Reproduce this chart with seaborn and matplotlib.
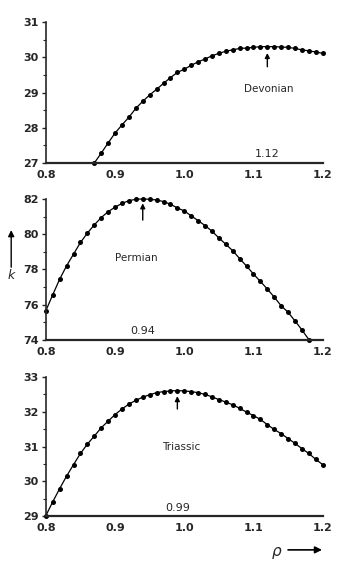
import numpy as np
import pandas as pd
import matplotlib
matplotlib.use("Agg")
import matplotlib.pyplot as plt
import seaborn as sns
from matplotlib.ticker import MultipleLocator

sns.set_style("ticks")
plt.rcParams['font.family'] = ['DejaVu Sans']

# Devonian
dev_rho = [0.87, 0.88, 0.89, 0.90, 0.91, 0.92, 0.93, 0.94, 0.95, 0.96, 0.97, 0.98, 0.99,
           1.00, 1.01, 1.02, 1.03, 1.04, 1.05, 1.06, 1.07, 1.08, 1.09, 1.10, 1.11, 1.12,
           1.13, 1.14, 1.15, 1.16, 1.17, 1.18, 1.19, 1.20]
dev_k = [27.00, 27.28, 27.57, 27.85, 28.08, 28.30, 28.55, 28.75, 28.93, 29.09, 29.26, 29.42,
         29.57, 29.66, 29.77, 29.87, 29.95, 30.04, 30.11, 30.17, 30.21, 30.25, 30.26, 30.28,
         30.30, 30.30, 30.30, 30.29, 30.28, 30.25, 30.21, 30.18, 30.15, 30.11]

# Permian
perm_rho = [0.80, 0.81, 0.82, 0.83, 0.84, 0.85, 0.86, 0.87, 0.88, 0.89, 0.90, 0.91, 0.92,
            0.93, 0.94, 0.95, 0.96, 0.97, 0.98, 0.99, 1.00, 1.01, 1.02, 1.03, 1.04, 1.05,
            1.06, 1.07, 1.08, 1.09, 1.10, 1.11, 1.12, 1.13, 1.14, 1.15, 1.16, 1.17, 1.18]
perm_k = [75.66, 76.57, 77.45, 78.21, 78.87, 79.53, 80.06, 80.53, 80.94, 81.28, 81.53, 81.75,
          81.90, 81.98, 82.00, 81.98, 81.94, 81.85, 81.70, 81.49, 81.32, 81.04, 80.77, 80.49,
          80.17, 79.79, 79.43, 79.06, 78.62, 78.19, 77.74, 77.32, 76.89, 76.43, 75.94, 75.57,
          75.08, 74.57, 74.02]

# Triassic
tri_rho = [0.80, 0.81, 0.82, 0.83, 0.84, 0.85, 0.86, 0.87, 0.88, 0.89, 0.90, 0.91, 0.92,
           0.93, 0.94, 0.95, 0.96, 0.97, 0.98, 0.99, 1.00, 1.01, 1.02, 1.03, 1.04, 1.05,
           1.06, 1.07, 1.08, 1.09, 1.10, 1.11, 1.12, 1.13, 1.14, 1.15, 1.16, 1.17, 1.18,
           1.19, 1.20]
tri_k = [29.01, 29.41, 29.79, 30.15, 30.48, 30.80, 31.07, 31.30, 31.54, 31.73, 31.92, 32.08,
         32.22, 32.33, 32.42, 32.49, 32.55, 32.58, 32.60, 32.61, 32.60, 32.58, 32.55, 32.50,
         32.43, 32.35, 32.28, 32.20, 32.10, 31.99, 31.89, 31.78, 31.63, 31.49, 31.37, 31.23,
         31.09, 30.94, 30.80, 30.63, 30.48]

x_ticks = [0.8, 0.9, 1.0, 1.1, 1.2]
x_tick_labels = ["0.8", "0.9", "1.0", "1.1", "1.2"]

panels = [
    dict(name="Devonian", rho=dev_rho, k=dev_k, ylim=(27, 31), yticks=[27, 28, 29, 30, 31],
         opt=1.12, opt_label="1.12", arrow=(29.73, 30.12), label_pos=(1.087, 29.1),
         opt_text_y=27.1, rect=[0.131, 0.7145, 0.791, 0.247]),
    dict(name="Permian", rho=perm_rho, k=perm_k, ylim=(74, 82), yticks=[74, 76, 78, 80, 82],
         opt=0.94, opt_label="0.94", arrow=(80.8, 81.75), label_pos=(0.90, 78.65),
         opt_text_y=74.22, rect=[0.131, 0.4046, 0.791, 0.247]),
    dict(name="Triassic", rho=tri_rho, k=tri_k, ylim=(29, 33), yticks=[29, 30, 31, 32, 33],
         opt=0.99, opt_label="0.99", arrow=(32.08, 32.45), label_pos=(0.968, 31.0),
         opt_text_y=29.09, rect=[0.131, 0.0963, 0.791, 0.2434]),
]

fig = plt.figure(figsize=(3.5, 5.71), dpi=100)

for p in panels:
    ax = fig.add_axes(p["rect"])
    df = pd.DataFrame({"rho": p["rho"], "k": p["k"]})
    sns.lineplot(data=df, x="rho", y="k", ax=ax, color="black", linewidth=0.9,
                 marker="o", markersize=3.6, markeredgewidth=0, clip_on=False)
    ax.set_xlim(0.8, 1.2)
    ax.set_ylim(*p["ylim"])
    ax.set_xticks(x_ticks)
    ax.set_xticklabels(x_tick_labels)
    ax.set_yticks(p["yticks"])
    ax.yaxis.set_minor_locator(MultipleLocator((p["yticks"][1] - p["yticks"][0]) / 2))
    ax.set_xlabel("")
    ax.set_ylabel("")
    sns.despine(ax=ax)
    ax.spines["left"].set_linewidth(1.2)
    ax.spines["bottom"].set_linewidth(1.6)
    ax.tick_params(axis="y", which="major", length=3, width=1, labelsize=8, pad=2)
    ax.tick_params(axis="y", which="minor", length=2, width=0.8)
    ax.tick_params(axis="x", length=0, labelsize=8, pad=5)
    for lbl in ax.get_xticklabels() + ax.get_yticklabels():
        lbl.set_fontweight("bold")
    # peak arrow
    ax.annotate("", xy=(p["opt"], p["arrow"][1]), xytext=(p["opt"], p["arrow"][0]),
                arrowprops=dict(arrowstyle="-|>", color="black", lw=1.0,
                                mutation_scale=7, shrinkA=0, shrinkB=0))
    # optimum label on the axis
    ax.text(p["opt"], p["opt_text_y"], p["opt_label"], ha="center", va="bottom",
            fontsize=8)
    ax.text(*p["label_pos"], p["name"], ha="left", va="center", fontsize=7.5)

# y label "k" with arrow
fig.text(0.032, 0.518, "k", ha="center", va="center", fontsize=9, style="italic")
fig.add_artist(matplotlib.patches.FancyArrowPatch((0.032, 0.532), (0.032, 0.597),
               transform=fig.transFigure, arrowstyle="-|>", mutation_scale=9,
               color="black", lw=1.0, shrinkA=0, shrinkB=0))

# x label rho with arrow
fig.text(0.79, 0.035, "ρ", ha="center", va="center", fontsize=11, style="italic")
fig.add_artist(matplotlib.patches.FancyArrowPatch((0.823, 0.037), (0.92, 0.037),
               transform=fig.transFigure, arrowstyle="-|>", mutation_scale=10,
               color="black", lw=1.2, shrinkA=0, shrinkB=0))

fig.savefig("out.png", dpi=100)
